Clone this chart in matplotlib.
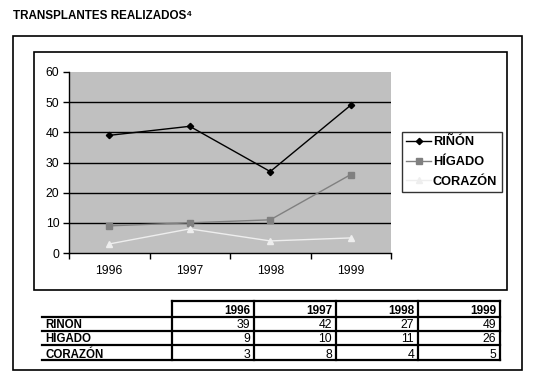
import matplotlib
matplotlib.use("Agg")
import matplotlib.pyplot as plt
from matplotlib.lines import Line2D
from matplotlib.patches import Rectangle

plt.rcParams['font.family'] = ['Liberation Sans', 'DejaVu Sans']

years = ["1996", "1997", "1998", "1999"]
series_names = ["RIÑÓN", "HÍGADO", "CORAZÓN"]
rinon = [39, 42, 27, 49]
higado = [9, 10, 11, 26]
corazon = [3, 8, 4, 5]
title = "TRANSPLANTES REALIZADOS⁴"

W, H = 544, 383
fig = plt.figure(figsize=(W / 100, H / 100), dpi=100)

def fx(px):
    return px / W

def fy(py):
    return 1 - py / H

# Title
fig.text(fx(13), fy(16), title, fontsize=8.4, fontweight='bold', va='center', ha='left')

# Outer frame and chart frame
fig.add_artist(Rectangle((fx(13), fy(370)), fx(522) - fx(13), fy(36) - fy(370),
                         transform=fig.transFigure, fill=False, lw=1.2, ec='black'))
fig.add_artist(Rectangle((fx(34), fy(290)), fx(507) - fx(34), fy(52) - fy(290),
                         transform=fig.transFigure, fill=False, lw=1.2, ec='black'))

# Plot area
ax = fig.add_axes([fx(69), fy(253), fx(391) - fx(69), fy(72) - fy(253)])
ax.set_facecolor('#c0c0c0')
x = list(range(len(years)))
styles = [
    dict(color='black', marker='D', markersize=3.2, mfc='black', mec='black'),
    dict(color='#808080', marker='s', markersize=5, mfc='#808080', mec='#808080'),
    dict(color='#eeeeee', marker='^', markersize=5, mfc='#eeeeee', mec='#eeeeee'),
]
for name, vals, st in zip(series_names, [rinon, higado, corazon], styles):
    ax.plot(x, vals, lw=1.0, label=name, **st)

ax.set_xlim(-0.5, len(years) - 0.5)
ax.set_ylim(0, 60)
ax.set_yticks(range(0, 61, 10))
ax.set_xticks([i - 0.5 for i in range(len(years) + 1)])
ax.set_xticklabels([])
ax.set_xticks(x, minor=True)
ax.set_xticklabels(years, minor=True)
ax.tick_params(axis='x', which='major', length=4, width=1, direction='out', color='black')
ax.tick_params(axis='x', which='minor', length=0, pad=9, labelsize=8.8)
ax.tick_params(axis='y', length=4, width=1, direction='out', labelsize=8.8, pad=3)
ax.yaxis.grid(True, color='black', lw=1)
ax.set_axisbelow(True)
gl = ax.get_ygridlines()
gl[-1].set_visible(False)
gl[0].set_visible(False)
for s in ['top', 'right']:
    ax.spines[s].set_visible(False)
for s in ['left', 'bottom']:
    ax.spines[s].set_color('black')
    ax.spines[s].set_linewidth(1)

leg = fig.legend(loc='upper left', bbox_to_anchor=(fx(402), fy(132)),
                 bbox_transform=fig.transFigure, frameon=True, fancybox=False,
                 edgecolor='black', prop={'weight': 'bold', 'size': 9.2},
                 handlelength=1.95, handletextpad=0.1, borderpad=0.35, labelspacing=0.6,
                 borderaxespad=0)
leg.get_frame().set_linewidth(1.0)

# Table
col_edges = [172, 254, 336, 418, 500]
row_lines = [301, 317, 331, 345, 360]
label_x0 = 42
lw = 1.6
fig.add_artist(Line2D([fx(col_edges[0]), fx(col_edges[-1])], [fy(row_lines[0])] * 2, color='black', lw=lw))
for ry in row_lines[1:]:
    fig.add_artist(Line2D([fx(label_x0), fx(col_edges[-1])], [fy(ry)] * 2, color='black', lw=lw))
for cx in col_edges:
    fig.add_artist(Line2D([fx(cx)] * 2, [fy(row_lines[0]), fy(row_lines[-1])], color='black', lw=lw))

for j, yr in enumerate(years):
    fig.text(fx(col_edges[j + 1] - 3.5), fy(row_lines[1] - 3), yr,
             ha='right', va='baseline', fontsize=8.5, fontweight='bold')
for i, (name, vals) in enumerate(zip(series_names, [rinon, higado, corazon])):
    yb = fy(row_lines[i + 2] - 2.5)
    fig.text(fx(label_x0 + 3), yb, name, ha='left', va='baseline', fontsize=8.3, fontweight='bold')
    for j, v in enumerate(vals):
        fig.text(fx(col_edges[j + 1] - 4), yb, str(v), ha='right', va='baseline', fontsize=8.8)

fig.savefig('out.png', dpi=100)
